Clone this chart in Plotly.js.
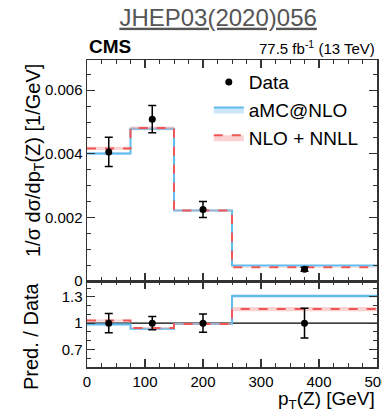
<!DOCTYPE html>
<html>
<head>
<meta charset="utf-8">
<script src="https://cdn.plot.ly/plotly-3.0.1.min.js"></script>
<style>
html,body{margin:0;padding:0;background:#fff;}
#chart{width:382px;height:412px;}
</style>
</head>
<body>
<div id="chart"></div>
<script>
// ---- data ----
const binEdges   = [0, 75, 150, 250, 500];
const binCenters = [37.5, 112.5, 200, 375];

const dataVal = [0.00406, 0.00509, 0.00225, 0.00037];
const dataErr = [0.00046, 0.00043, 0.00025, 0.00006];

const amcVal  = [0.00401, 0.00479, 0.00222, 0.000485];
const nnllVal = [0.00417, 0.00481, 0.00222, 0.00043];
const amcRelUnc  = [0.01, 0.01, 0.01, 0.015];
const nnllRelUnc = [0.012, 0.01, 0.01, 0.02];

const ratioData    = [1, 1, 1, 1];
const ratioDataErr = [0.11, 0.075, 0.105, 0.17];
const amcRatio  = [0.985, 0.935, 0.99, 1.31];
const nnllRatio = [1.03, 0.945, 0.99, 1.16];

const ratioRef = 1;

const topYTicks = [0, 0.002, 0.004, 0.006];
const ratioYTicks = [0.7, 1, 1.3];
const ratioYTickText = ['0.7', '1', '1.3'];

// ---- helpers ----
function stepY(vals){ return vals.concat([vals[vals.length-1]]); }
function scaled(vals, unc, sign){ return vals.map((v,i)=>v*(1+sign*unc[i])); }

const blueLine = '#62bbee';
const blueFill = 'rgba(160,210,242,0.55)';
const redLine  = '#f05656';
const redFill  = 'rgba(245,165,165,0.5)';

function bandTraces(vals, unc, xa, ya, lineColor, fillColor, dash, name, showleg, rank){
  const lo = scaled(vals, unc, -1), hi = scaled(vals, unc, 1);
  return [
    {x: binEdges, y: stepY(lo), xaxis: xa, yaxis: ya, mode:'lines', line:{shape:'hv', width:0, color:fillColor},
     showlegend:false, hoverinfo:'skip'},
    {x: binEdges, y: stepY(vals), xaxis: xa, yaxis: ya, mode:'lines', name: name,
     line:{shape:'hv', width:2, color:lineColor, dash:dash}, fill:'tonexty', fillcolor:fillColor,
     showlegend:showleg, legendrank: rank},
    {x: binEdges, y: stepY(hi), xaxis: xa, yaxis: ya, mode:'lines', line:{shape:'hv', width:0, color:fillColor},
     fill:'tonexty', fillcolor:fillColor, showlegend:false, hoverinfo:'skip'}
  ];
}

const traces = [].concat(
  bandTraces(amcVal, amcRelUnc, 'x2', 'y2', blueLine, blueFill, 'solid', 'aMC@NLO', true, 2),
  bandTraces(nnllVal, nnllRelUnc, 'x2', 'y2', redLine, redFill, 'dash', 'NLO + NNLL', true, 3),
  bandTraces(amcRatio, amcRelUnc, 'x', 'y', blueLine, blueFill, 'solid', 'aMC@NLO', false, 2),
  bandTraces(nnllRatio, nnllRelUnc, 'x', 'y', redLine, redFill, 'dash', 'NLO + NNLL', false, 3),
  [
    {x: binCenters, y: dataVal, xaxis:'x2', yaxis:'y2', mode:'markers', name:'Data', legendrank:1,
     marker:{color:'#000', size:7},
     error_y:{type:'data', array:dataErr, visible:true, color:'#000', thickness:1.5, width:4}},
    {x: binCenters, y: ratioData, xaxis:'x', yaxis:'y', mode:'markers', showlegend:false,
     marker:{color:'#000', size:7},
     error_y:{type:'data', array:ratioDataErr, visible:true, color:'#000', thickness:1.5, width:4}}
  ]
);

const axColor = '#333';
const tickFont = {family:'Liberation Sans, Arial, sans-serif', size:15, color:'#000'};

const xCommon = {
  range:[0,500], tick0:0, dtick:100, ticks:'inside', ticklen:8, tickwidth:1.2, tickcolor:axColor,
  minor:{dtick:25, tick0:0, ticks:'inside', ticklen:4, tickwidth:1, tickcolor:axColor},
  showline:true, linecolor:axColor, linewidth:1.5, mirror:'allticks',
  showgrid:false, zeroline:false, tickfont:tickFont, fixedrange:true
};

const layout = {
  width:382, height:412,
  margin:{l:87, r:5, t:60, b:45},
  paper_bgcolor:'#fff', plot_bgcolor:'#fff',
  font:{family:'Liberation Sans, Arial, sans-serif', color:'#000'},
  showlegend:true,
  legend:{x:0.42, xanchor:'left', y:0.99, yanchor:'top', bgcolor:'rgba(0,0,0,0)',
          font:{size:19, color:'#000'}, traceorder:'normal', itemwidth:30},
  title:{text:"<span style='text-decoration:underline'>JHEP03(2020)056</span>",
         xref:'container', yref:'container', x:0.571, xanchor:'center', y:0.958, yanchor:'middle',
         font:{size:24, color:'#555'}},
  xaxis: Object.assign({}, xCommon, {anchor:'y', domain:[0,1], ticklabeloverflow:'allow'}),
  xaxis2: Object.assign({}, xCommon, {anchor:'y2', domain:[0,1], matches:'x', showticklabels:false}),
  yaxis: {domain:[0,0.28], anchor:'x', range:[0.5,1.48], tickmode:'array', tickvals:ratioYTicks, ticktext:ratioYTickText,
          ticks:'inside', ticklen:8, tickwidth:1.2, tickcolor:axColor,
          minor:{tickmode:'linear', tick0:0.5, dtick:0.1, ticks:'inside', ticklen:4, tickwidth:1, tickcolor:axColor},
          showline:true, linecolor:axColor, linewidth:1.5, mirror:'allticks', showgrid:false, zeroline:false,
          tickfont:tickFont, fixedrange:true},
  yaxis2:{domain:[0.28,1], anchor:'x2', range:[0,0.00695], tickmode:'array', tickvals:topYTicks,
          ticks:'inside', ticklen:8, tickwidth:1.2, tickcolor:axColor,
          minor:{tickmode:'linear', tick0:0, dtick:0.0005, ticks:'inside', ticklen:4, tickwidth:1, tickcolor:axColor},
          showline:true, linecolor:axColor, linewidth:1.5, mirror:'allticks', showgrid:false, zeroline:false,
          tickfont:tickFont, fixedrange:true},
  shapes:[
    {type:'line', xref:'x', yref:'y', x0:binEdges[0], x1:binEdges[binEdges.length-1], y0:ratioRef, y1:ratioRef,
     line:{color:'#000', width:1.2}, layer:'below'}
  ],
  annotations:[
    {text:'<b>CMS</b>', xref:'paper', yref:'paper', x:0, xanchor:'left', y:1, yanchor:'bottom', yshift:1,
     showarrow:false, font:{size:19, color:'#000'}},
    {text:'77.5 fb<sup>-1</sup> (13 TeV)', xref:'paper', yref:'paper', x:1, xanchor:'right', y:1, yanchor:'bottom', yshift:1,
     showarrow:false, font:{size:15, color:'#000'}},
    {text:'1/σ dσ/dp<sub>T</sub>(Z) [1/GeV]', xref:'paper', yref:'paper', x:(34-87)/290, xanchor:'center',
     y:(367-161)/307, yanchor:'middle', textangle:-90, showarrow:false, font:{size:20, color:'#000'}},
    {text:'Pred. / Data', xref:'paper', yref:'paper', x:(31-87)/290, xanchor:'center',
     y:(367-336)/307, yanchor:'middle', textangle:-90, showarrow:false, font:{size:20, color:'#000'}},
    {text:'p<sub>T</sub>(Z) [GeV]', xref:'paper', yref:'paper', x:1, xanchor:'right',
     y:(367-399.5)/307, yanchor:'middle', showarrow:false, font:{size:19, color:'#000'}}
  ]
};

Plotly.newPlot('chart', traces, layout, {staticPlot:true, displayModeBar:false});
</script>
</body>
</html>
